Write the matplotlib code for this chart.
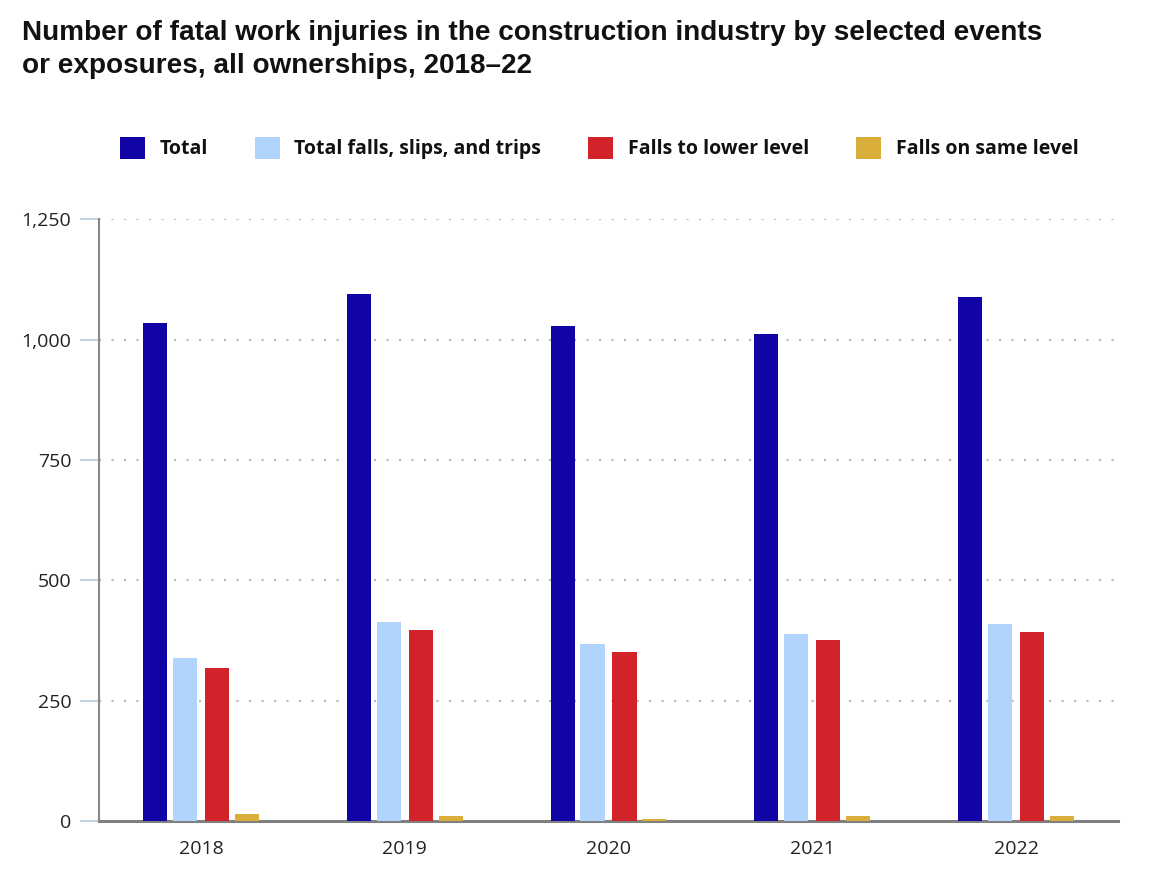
import matplotlib
matplotlib.use("Agg")
import matplotlib.pyplot as plt
from matplotlib.patches import Patch
from matplotlib.ticker import FuncFormatter
import numpy as np

years = ["2018", "2019", "2020", "2021", "2022"]
series_names = ["Total", "Total falls, slips, and trips", "Falls to lower level", "Falls on same level"]
total = [1034, 1096, 1029, 1013, 1088]
falls_slips_trips = [339, 413, 367, 388, 409]
falls_lower = [318, 396, 351, 376, 392]
falls_same = [14, 10, 5, 10, 10]
colors = ["#1005A4", "#B0D4FC", "#D2232A", "#D9AE3A"]
yticks = [0, 250, 500, 750, 1000, 1250]

series = [total, falls_slips_trips, falls_lower, falls_same]

fig = plt.figure(figsize=(11.6, 8.88), dpi=100)
ax = fig.add_axes([99/1160, 1-821/888, (1118-99)/1160, (821-219.5)/888])

x = np.arange(len(years))
offsets = [-0.2255, -0.0784, 0.0784, 0.2255]
width = 0.118
for vals, off, c in zip(series, offsets, colors):
    ax.bar(x + off, vals, width=width, color=c, zorder=3)

ax.set_xlim(-0.5, len(years) - 0.5)
ax.set_ylim(0, 1250)
ax.set_yticks(yticks)
ax.yaxis.set_major_formatter(FuncFormatter(lambda v, p: f"{int(v):,}"))
ax.set_xticks(x)
ax.set_xticklabels(years)

for lbl in ax.get_yticklabels() + ax.get_xticklabels():
    lbl.set_fontfamily(["Open Sans", "DejaVu Sans"])
    lbl.set_fontsize(14)
    lbl.set_color("#222222")

ax.tick_params(axis="y", length=14, width=1.5, color="#C5D3E0", pad=6)
ax.tick_params(axis="x", length=0, pad=14)

for yv in yticks[1:]:
    ax.axhline(yv, color="#B8B8B8", linestyle=(0, (1, 5)), linewidth=1.5, zorder=1)

for s in ["top", "right"]:
    ax.spines[s].set_visible(False)
ax.spines["left"].set_color("#888888")
ax.spines["left"].set_linewidth(1.5)
ax.spines["bottom"].set_color("#808080")
ax.spines["bottom"].set_linewidth(2.2)

fig.text(22/1160, 1-20/888, "Number of fatal work injuries in the construction industry by selected events\nor exposures, all ownerships, 2018\u201322",
         ha="left", va="top", fontsize=20.1, fontweight="bold",
         family=["Liberation Sans", "DejaVu Sans"], linespacing=1.37, color="#111111")

handles = [Patch(facecolor=c, edgecolor="none") for c in colors]
leg = fig.legend(handles, series_names, loc="center", bbox_to_anchor=(599/1160, 1-148/888),
                 ncol=4, frameon=False, handlelength=1.3, handleheight=1.35,
                 handletextpad=0.75, columnspacing=2.4,
                 prop=dict(family=["Open Sans", "DejaVu Sans"], weight="bold", size=14))
for t in leg.get_texts():
    t.set_color("#111111")

fig.savefig("out.png", dpi=100, facecolor="white")
